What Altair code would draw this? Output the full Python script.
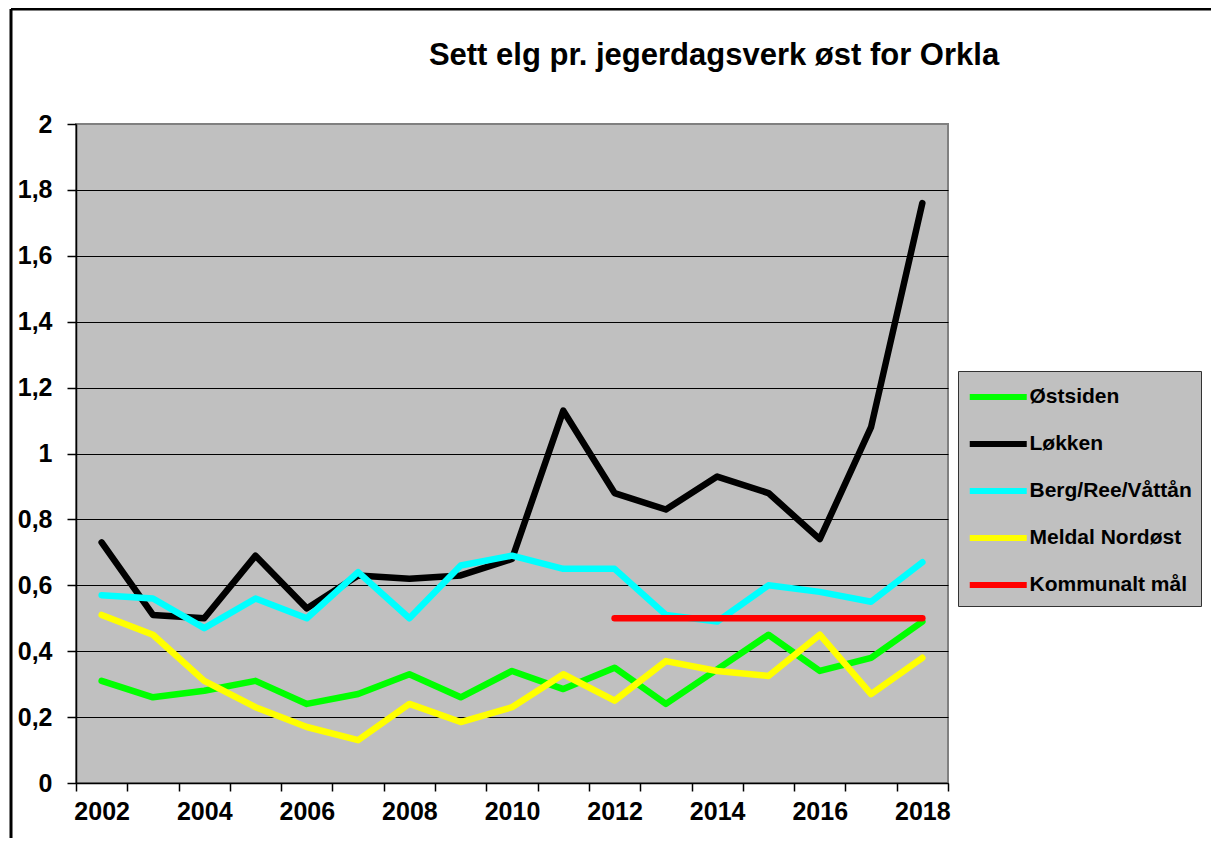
import altair as alt
import pandas as pd

years = list(range(2002, 2019))
ostsiden = [0.31, 0.26, 0.28, 0.31, 0.24, 0.27, 0.33, 0.26, 0.34, 0.285, 0.35, 0.24, 0.345, 0.45, 0.34, 0.38, 0.49]
lokken = [0.73, 0.51, 0.50, 0.69, 0.53, 0.63, 0.62, 0.63, 0.68, 1.13, 0.88, 0.83, 0.93, 0.88, 0.74, 1.08, 1.76]
berg = [0.57, 0.56, 0.47, 0.56, 0.50, 0.64, 0.50, 0.66, 0.69, 0.65, 0.65, 0.51, 0.49, 0.60, 0.58, 0.55, 0.67]
meldal = [0.51, 0.45, 0.31, 0.23, 0.17, 0.13, 0.24, 0.185, 0.23, 0.33, 0.25, 0.37, 0.34, 0.325, 0.45, 0.27, 0.38]
maal_years = [2012, 2013, 2014, 2015, 2016, 2017, 2018]
maal = [0.5, 0.5, 0.5, 0.5, 0.5, 0.5, 0.5]

series_names = ["Østsiden", "Løkken", "Berg/Ree/Våttån", "Meldal Nordøst", "Kommunalt mål"]
series_colors = ["#00FF00", "#000000", "#00FFFF", "#FFFF00", "#FF0000"]
y_ticks = [0, 0.2, 0.4, 0.6, 0.8, 1.0, 1.2, 1.4, 1.6, 1.8, 2.0]

rows = []
for name, vals in zip(series_names[:4], [ostsiden, lokken, berg, meldal]):
    for yr, v in zip(years, vals):
        rows.append({"year": yr, "value": v, "series": name, "order": series_names.index(name)})
for yr, v in zip(maal_years, maal):
    rows.append({"year": yr, "value": v, "series": series_names[4], "order": 4})
df = pd.DataFrame(rows)

# category boundaries (ticks) and category centres (labels)
x_values = [y - 0.5 for y in years] + [years[-1] + 0.5] + years

W, H = 872, 659
FONT = "Liberation Sans"

lines = alt.Chart(df).mark_line(strokeWidth=6.5, strokeCap="round", strokeJoin="round").encode(
    x=alt.X("year:Q",
            scale=alt.Scale(domain=[years[0] - 0.5, years[-1] + 0.5], nice=False, zero=False),
            axis=alt.Axis(values=x_values, title=None, grid=False,
                          labelExpr="datum.value % 2 == 0 ? format(datum.value, 'd') : ''",
                          labelOverlap=False,
                          tickOpacity={"condition": {"test": "datum.value % 1 == 0", "value": 0}, "value": 1},
                          tickSize=8, tickColor="black", tickWidth=1.5,
                          domainColor="black", domainWidth=1.5,
                          labelFont=FONT, labelFontSize=25, labelFontWeight="bold",
                          labelColor="black", labelPadding=8)),
    y=alt.Y("value:Q",
            scale=alt.Scale(domain=[0, 2], nice=False),
            axis=alt.Axis(values=y_ticks, title=None, grid=True,
                          gridColor={"condition": {"test": "datum.value == 2", "value": "#808080"}, "value": "black"},
                          gridWidth=1,
                          labelExpr="replace(format(datum.value, '.1~f'), '.', ',')",
                          tickSize=9, tickColor="black", tickWidth=1.5,
                          domainColor="black", domainWidth=1.5,
                          labelFont=FONT, labelFontSize=25, labelFontWeight="bold",
                          labelColor="black", labelPadding=15)),
    color=alt.Color("series:N",
                    scale=alt.Scale(domain=series_names, range=series_colors),
                    legend=alt.Legend(title=None, orient="none", legendX=882, legendY=247,
                                      fillColor="#C0C0C0", strokeColor="#333333",
                                      padding=8.5, symbolType="M-1,0H3", symbolSize=812,
                                      symbolStrokeWidth=6, labelFont=FONT, labelFontSize=21,
                                      labelFontWeight="bold", labelColor="black",
                                      labelOffset=28, labelLimit=400, rowPadding=17)),
    order=alt.Order("order:Q"),
)

border_left = alt.Chart(alt.Data(values=[{"a": 1}])).mark_rule(color="black", strokeWidth=3).encode(
    x=alt.value(-65), y=alt.value(-115), y2=alt.value(H + 60)
)
border_top = alt.Chart(alt.Data(values=[{"a": 1}])).mark_rule(color="black", strokeWidth=3).encode(
    x=alt.value(-65), x2=alt.value(W + 270), y=alt.value(-115)
)

chart = alt.layer(lines, border_left, border_top).properties(
    width=W, height=H,
    title=alt.TitleParams("Sett elg pr. jegerdagsverk øst for Orkla", font=FONT, fontSize=31,
                          fontWeight="bold", color="black", anchor="middle", dx=202, offset=0, dy=64),
    autosize=alt.AutoSizeParams(type="none"),
    padding={"left": 68, "top": 116, "right": 263, "bottom": 55},
).configure(background="white").configure_view(fill="#C0C0C0", stroke="#808080", strokeWidth=2)

chart.save("out.html", embed_options={"renderer": "svg", "actions": False})
